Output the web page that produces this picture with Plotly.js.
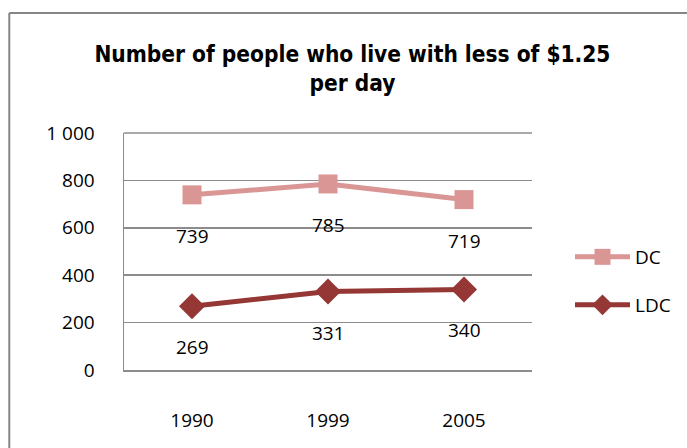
<!DOCTYPE html>
<html><head><meta charset="utf-8">
<script src="https://cdn.plot.ly/plotly-3.0.1.min.js"></script>
<style>html,body{margin:0;padding:0;background:#fff;}#chart{width:687px;height:448px;}</style>
</head><body><div id="chart"></div>
<script>
const years = ['1990', '1999', '2005'];
const dcValues = [739, 785, 719];
const ldcValues = [269, 331, 340];
const seriesNames = ['DC', 'LDC'];
const yTickVals = [0, 200, 400, 600, 800, 1000];
const yTickText = ['0', '200', '400', '600', '800', '1 000'];

const W = 687, H = 448;
const L = 124, R = 533, T = 133, B = 370;
const pw = R - L, ph = B - T;
const px = v => (v - L) / pw;
const py = v => (B - v) / ph;

const tf = () => ({family: 'Open Sans, Noto Sans, sans-serif', size: 19, color: '#000'});

const traces = [
  {x: years, y: dcValues, name: seriesNames[0], type: 'scatter', mode: 'lines+markers',
   line: {color: '#D99694', width: 5}, marker: {symbol: 'square', size: 19, color: '#D99694'},
   legend: 'legend', hoverinfo: 'skip'},
  {x: years, y: ldcValues, name: seriesNames[1], type: 'scatter', mode: 'lines+markers',
   line: {color: '#953735', width: 5}, marker: {symbol: 'diamond', size: 20, color: '#953735'},
   legend: 'legend2', hoverinfo: 'skip'}
];

const annotations = [];
[dcValues, ldcValues].forEach(arr => {
  arr.forEach((v, i) => {
    annotations.push({x: i, y: v, xref: 'x', yref: 'y', text: String(v), showarrow: false,
      yshift: -41, font: tf()});
  });
});

const layout = {
  width: W, height: H,
  margin: {l: L, r: W - R, t: T, b: H - B, pad: 0},
  paper_bgcolor: '#fff', plot_bgcolor: '#fff',
  title: {text: '<b>Number of people who live with less of $1.25<br>per day</b>',
    font: {family: 'Liberation Sans Narrow, DejaVu Sans Condensed, sans-serif', size: 22.5, color: '#000'},
    x: px(353), xanchor: 'center', xref: 'paper', y: 1 - 62 / H, yanchor: 'top'},
  xaxis: {type: 'category', range: [-0.5, 2.5], showgrid: false, zeroline: false,
    showline: true, linecolor: '#8C8C8C', linewidth: 1.5, ticks: '', tickfont: tf(), ticklabelstandoff: 33},
  yaxis: {range: [0, 1000], tickvals: yTickVals, ticktext: yTickText, showgrid: true,
    gridcolor: '#8C8C8C', gridwidth: 1.5, zeroline: false, showline: true, linecolor: '#8C8C8C',
    linewidth: 1.5, ticks: '', tickfont: tf(), ticklabelstandoff: 24},
  showlegend: true,
  legend: {x: px(570), y: py(257), xanchor: 'left', yanchor: 'middle', bgcolor: 'rgba(0,0,0,0)',
    font: tf(), itemwidth: 55},
  legend2: {x: px(570), y: py(305), xanchor: 'left', yanchor: 'middle', bgcolor: 'rgba(0,0,0,0)',
    font: tf(), itemwidth: 55},
  annotations: annotations,
  shapes: [
    {type: 'line', xref: 'paper', yref: 'paper', x0: 0, x1: 1, y0: 1, y1: 1,
     line: {color: '#8C8C8C', width: 1.5}, layer: 'below'},
    {type: 'line', xref: 'paper', yref: 'paper', x0: px(9), x1: px(9), y0: py(13), y1: py(460),
     line: {color: '#868686', width: 2}},
    {type: 'line', xref: 'paper', yref: 'paper', x0: px(9), x1: px(700), y0: py(13), y1: py(13),
     line: {color: '#868686', width: 2}}
  ]
};

Plotly.newPlot('chart', traces, layout, {displayModeBar: false, staticPlot: true});
</script></body></html>
